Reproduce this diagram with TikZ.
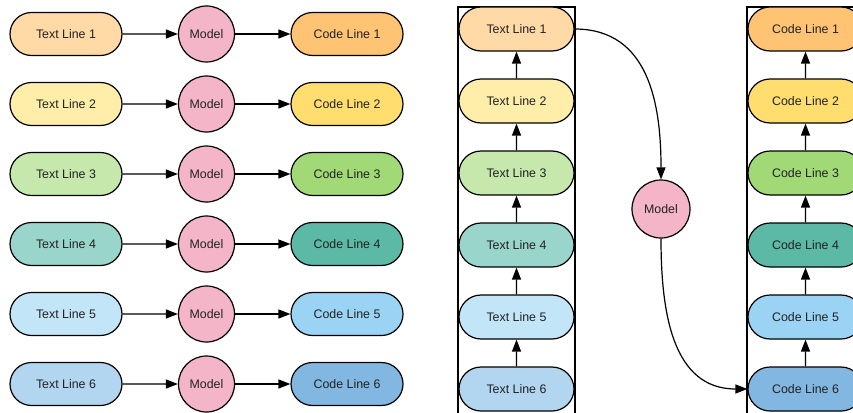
\documentclass[tikz,border=0pt]{standalone}
\usepackage{fontspec}
\setmainfont{Liberation Sans}
\usetikzlibrary{shapes.misc,arrows.meta}
\definecolor{tA}{HTML}{FFD9A6}
\definecolor{tB}{HTML}{FFEEAA}
\definecolor{tC}{HTML}{C7E8AC}
\definecolor{tD}{HTML}{99D5CA}
\definecolor{tE}{HTML}{C2E5F8}
\definecolor{tF}{HTML}{B2D5F0}
\definecolor{cA}{HTML}{FFC374}
\definecolor{cB}{HTML}{FFDD6F}
\definecolor{cC}{HTML}{A2D977}
\definecolor{cD}{HTML}{5BB9A5}
\definecolor{cE}{HTML}{9BD3F4}
\definecolor{cF}{HTML}{82B7E1}
\definecolor{modelpink}{HTML}{F4B5C8}
\definecolor{txt}{HTML}{222222}
\tikzset{
  pillL/.style={rounded rectangle, draw=black, line width=1.2pt, minimum width=112pt, minimum height=43pt, inner sep=0pt, font=\fontsize{12.4}{14}\selectfont, text=txt},
  pillR/.style={pillL, minimum width=115pt, minimum height=44pt},
  modelnode/.style={circle, draw=black, line width=1.2pt, fill=modelpink, minimum size=56pt, inner sep=0pt, font=\fontsize{12.4}{14}\selectfont, text=txt},
  conn/.style={line width=1.3pt, -{Triangle[length=12pt,width=9pt]}},
  frame/.style={line width=1.5pt, draw=black}
}
\begin{document}
\begin{tikzpicture}[x=1pt,y=-1pt]
\useasboundingbox (0,0) rectangle (853,412);
% left part
\foreach \i/\tc/\cc in {1/tA/cA,2/tB/cB,3/tC/cC,4/tD/cD,5/tE/cE,6/tF/cF}{
  \pgfmathsetmacro{\yy}{34+70*(\i-1)}
  \node[pillL, fill=\tc] (lt\i) at (66,\yy) {Text Line \i};
  \node[modelnode] (lm\i) at (206.5,\yy) {Model};
  \node[pillL, fill=\cc] (lc\i) at (347,\yy) {Code Line \i};
  \draw[conn] (lt\i) -- (lm\i);
  \draw[conn] (lm\i) -- (lc\i);
}
% right part frames
\coordinate (fl1) at (458,7);
\coordinate (fl2) at (575,416);
\coordinate (fr1) at (747,7);
\coordinate (fr2) at (864,416);
\draw[frame] (fl1) rectangle (fl2);
\draw[frame] (fr1) rectangle (fr2);
\foreach \i/\tc/\cc in {1/tA/cA,2/tB/cB,3/tC/cC,4/tD/cD,5/tE/cE,6/tF/cF}{
  \pgfmathsetmacro{\yy}{29+72*(\i-1)}
  \node[pillR, fill=\tc] (rt\i) at (516.5,\yy) {Text Line \i};
  \node[pillR, fill=\cc] (rc\i) at (805.5,\yy) {Code Line \i};
}
\foreach \i/\j in {2/1,3/2,4/3,5/4,6/5}{
  \draw[conn] (rt\i) -- (rt\j);
  \draw[conn] (rc\i) -- (rc\j);
}
\node[modelnode, minimum size=58pt] (rm) at (661,209) {Model};
\draw[line width=1.2pt, -{Triangle[length=12pt,width=9pt]}] (rt1.east) to[out=0,in=90,looseness=1.1] (rm.north);
\draw[line width=1.2pt, -{Triangle[length=12pt,width=9pt]}] (rm.south) to[out=-90,in=180,looseness=1.1] (rc6.west);
\end{tikzpicture}
\end{document}
